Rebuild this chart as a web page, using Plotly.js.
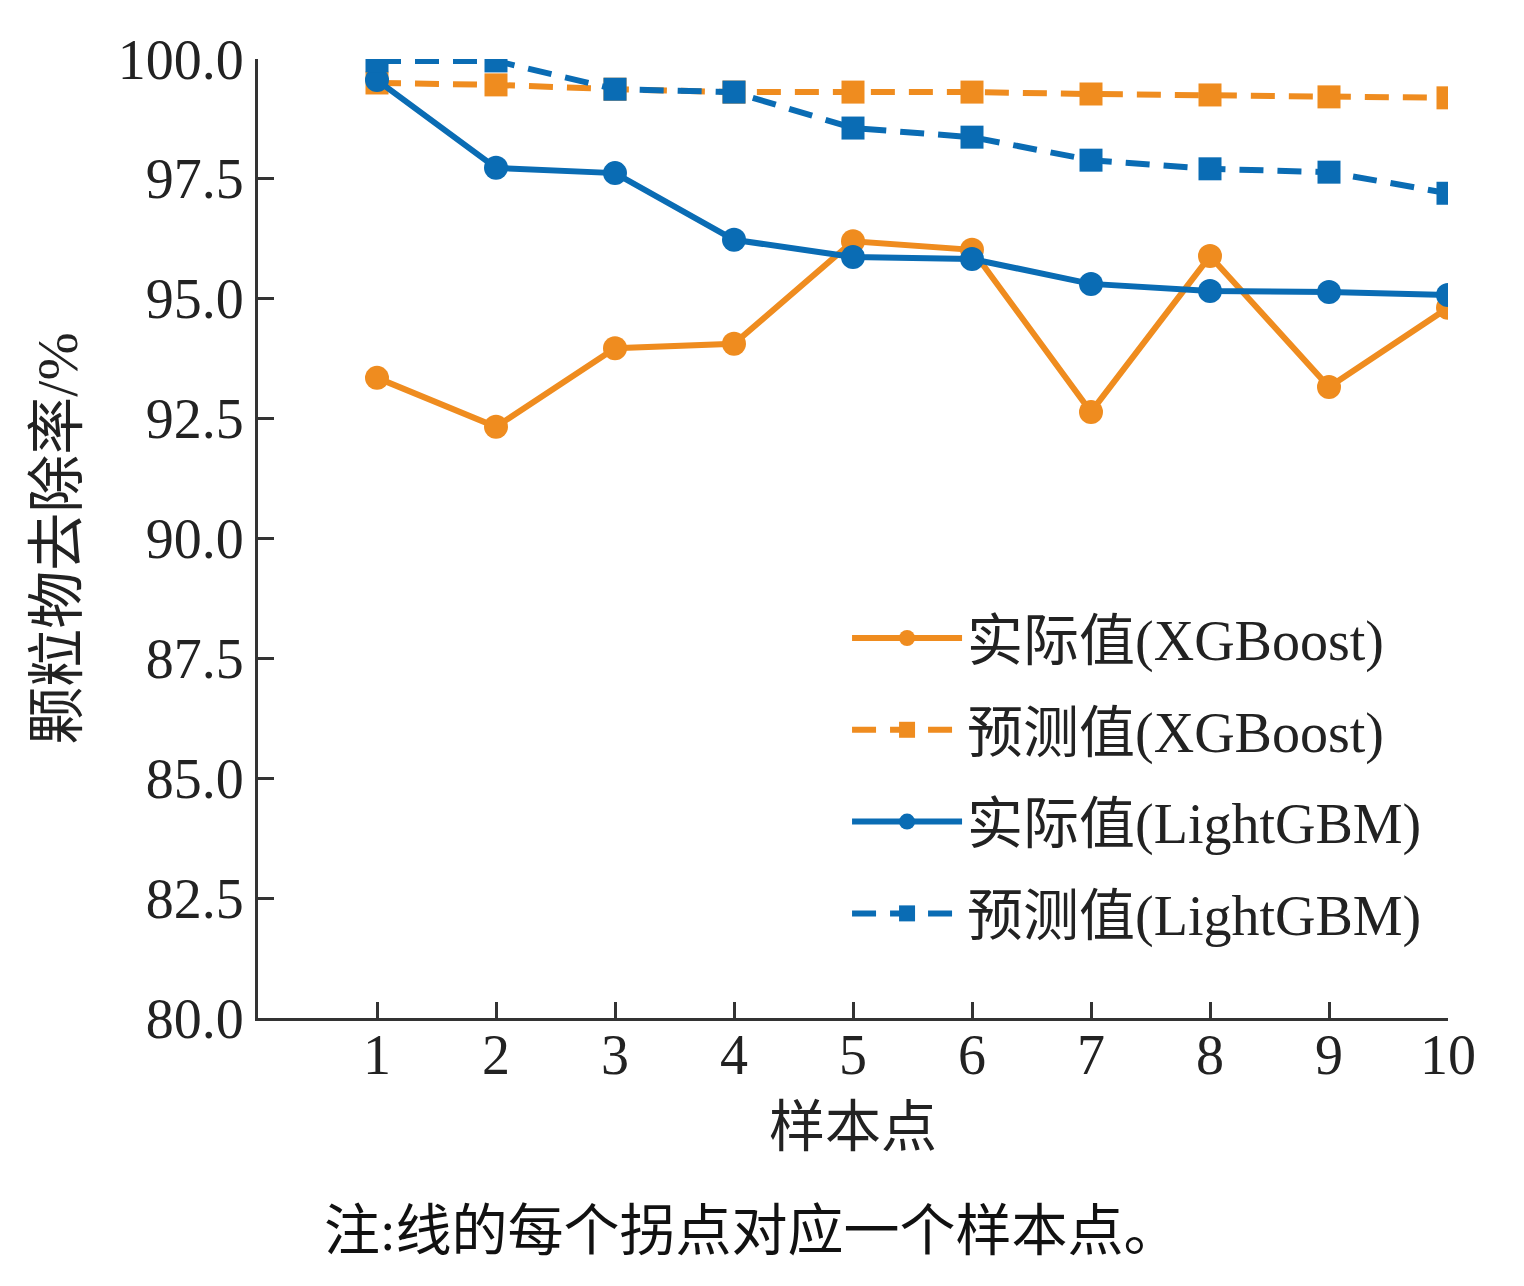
<!DOCTYPE html>
<html>
<head>
<meta charset="utf-8">
<script src="https://cdn.plot.ly/plotly-3.0.1.min.js"></script>
<style>
  html, body { margin: 0; padding: 0; background: #ffffff; }
  #chart { width: 1524px; height: 1286px; }
</style>
</head>
<body>
<div id="chart"></div>
<script>
const samples = [1, 2, 3, 4, 5, 6, 7, 8, 9, 10];
const actualXGB = [93.35, 92.33, 93.97, 94.06, 96.20, 96.02, 92.64, 95.89, 93.16, 94.81];
const predXGB = [99.50, 99.46, 99.37, 99.31, 99.31, 99.31, 99.27, 99.25, 99.21, 99.19];
const actualLGB = [99.56, 97.73, 97.62, 96.23, 95.87, 95.83, 95.31, 95.16, 95.14, 95.08];
const predLGB = [99.96, 99.96, 99.37, 99.31, 98.56, 98.37, 97.89, 97.71, 97.64, 97.20];
const yTicks = [80, 82.5, 85, 87.5, 90, 92.5, 95, 97.5, 100];

const orange = '#ef8c1f';
const blue = '#0a6cb4';
const fontFamily = '"Liberation Serif", "Noto Sans CJK SC", serif';
const textColor = '#222222';

// each trace in its own legend group so tracegroupgap spaces the rows
const traces = [
    {
        x: samples, y: actualXGB, name: '实际值(XGBoost)', legendgroup: 'a',
        type: 'scatter', mode: 'lines+markers',
        line: {color: orange, width: 6},
        marker: {symbol: 'circle', size: 24, color: orange}
    },
    {
        x: samples, y: predXGB, name: '预测值(XGBoost)', legendgroup: 'b',
        type: 'scatter', mode: 'lines+markers',
        line: {color: orange, width: 6, dash: '24px,14px'},
        marker: {symbol: 'square', size: 23, color: orange}
    },
    {
        x: samples, y: actualLGB, name: '实际值(LightGBM)', legendgroup: 'c',
        type: 'scatter', mode: 'lines+markers',
        line: {color: blue, width: 6},
        marker: {symbol: 'circle', size: 24, color: blue}
    },
    {
        x: samples, y: predLGB, name: '预测值(LightGBM)', legendgroup: 'd',
        type: 'scatter', mode: 'lines+markers',
        line: {color: blue, width: 6, dash: '24px,14px'},
        marker: {symbol: 'square', size: 23, color: blue}
    }
];

const layout = {
    width: 1524,
    height: 1286,
    paper_bgcolor: '#ffffff',
    plot_bgcolor: '#ffffff',
    margin: {l: 258, r: 76, t: 59, b: 268},
    font: {family: fontFamily, size: 54, color: textColor},
    showlegend: true,
    legend: {
        x: 0.495, y: 0.441, xanchor: 'left', yanchor: 'top',
        bgcolor: 'rgba(0,0,0,0)',
        font: {family: fontFamily, size: 56, color: textColor},
        itemwidth: 110,
        traceorder: 'grouped',
        tracegroupgap: 16
    },
    xaxis: {
        range: [0, 10],
        tickvals: samples,
        ticktext: samples.map(String),
        ticks: 'inside', ticklen: 16, tickwidth: 3, tickcolor: '#333333',
        showline: true, linecolor: '#333333', linewidth: 3,
        showgrid: false, zeroline: false,
        ticklabelstandoff: -14,
        tickfont: {family: fontFamily, size: 56, color: textColor},
        title: {text: '样本点', font: {family: fontFamily, size: 56, color: textColor}, standoff: 22}
    },
    yaxis: {
        range: [80, 100],
        tickvals: yTicks,
        ticktext: yTicks.map(v => v.toFixed(1)),
        ticks: 'inside', ticklen: 16, tickwidth: 3, tickcolor: '#333333',
        showline: true, linecolor: '#333333', linewidth: 3,
        showgrid: false, zeroline: false,
        tickfont: {family: fontFamily, size: 56, color: textColor},
        title: {text: '颗粒物去除率/%', font: {family: fontFamily, size: 58, color: textColor}, standoff: 22}
    },
    annotations: [
        {
            text: '注:线的每个拐点对应一个样本点。',
            xref: 'paper', yref: 'paper',
            x: 0.415, y: -0.222, xanchor: 'center', yanchor: 'middle',
            showarrow: false,
            font: {family: fontFamily, size: 56, color: '#111111'}
        }
    ]
};

Plotly.newPlot('chart', traces, layout, {displayModeBar: false, staticPlot: true});
</script>
</body>
</html>
